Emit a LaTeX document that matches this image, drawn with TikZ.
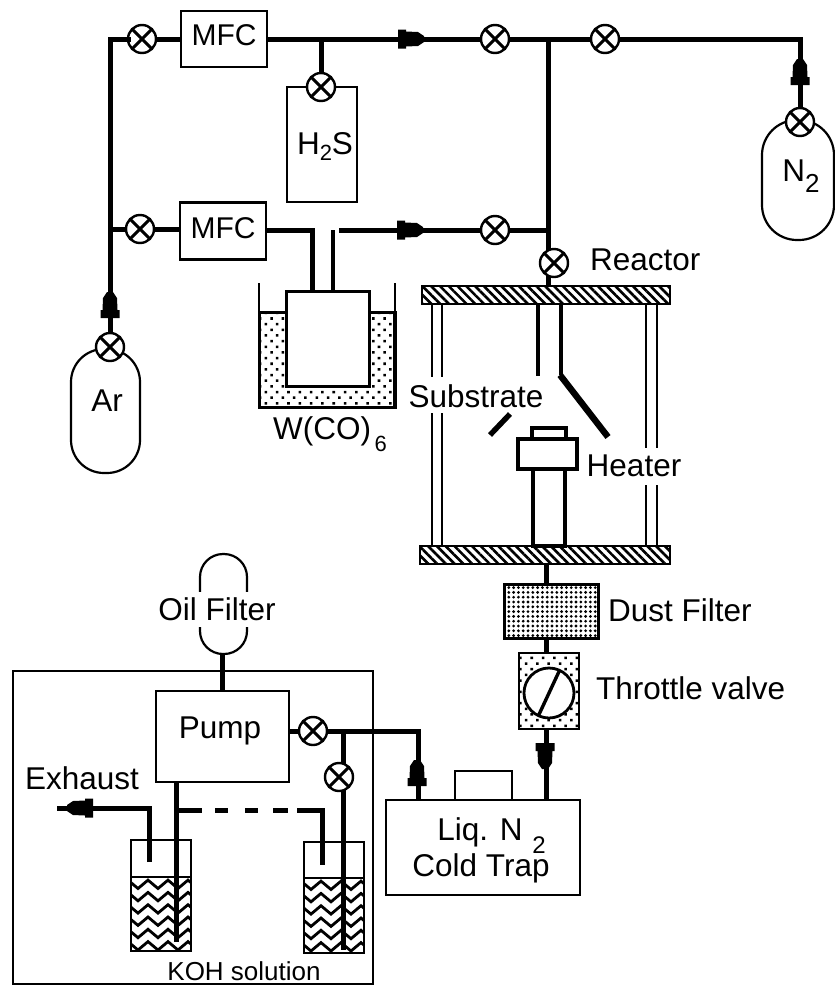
\documentclass[tikz,border=0pt]{standalone}
\usepackage{fontspec}
\setmainfont{Liberation Sans}
\usetikzlibrary{patterns.meta,decorations.pathmorphing}

\newcommand{\subtxt}[3]{\raisebox{#1}{\fontsize{#2}{#2}\selectfont #3}}

\tikzset{
  box/.style={draw,line width=2.2pt,inner sep=0pt,outer sep=0pt},
  heavybox/.style={box,line width=3.8pt},
  capsule/.style={box,fill=white},
  valve/.style={circle,draw,fill=white,line width=2.4pt,inner sep=0pt,outer sep=0pt,minimum size=28pt,
    path picture={\draw[line width=3pt] (path picture bounding box.north west) -- (path picture bounding box.south east)
      (path picture bounding box.north east) -- (path picture bounding box.south west);}},
  pipe/.style={line width=5pt},
  wall/.style={line width=2.8pt},
  tube/.style={line width=4.4pt},
  lbl/.style={inner sep=0pt,font=\fontsize{31.5}{35}\selectfont},
  hatched/.style={pattern={Lines[angle=-45,distance=6.2pt,line width=2.6pt]}},
  sparsedots/.style={pattern={Dots[angle=45,distance=8pt,radius=1.8pt]}},
  densedots/.style={pattern={Dots[angle=0,distance=4.8pt,radius=1.55pt]}},
  wave/.style={line width=2.8pt,decorate,decoration={zigzag,segment length=20pt,amplitude=4.2pt}},
  checkvalve/.pic={
    \fill (-13,-9.5) -- (-5,-9.5) -- (-5,-7.5) -- (7,-7) -- (13,-3) -- (13,3) -- (7,7) -- (-5,7.5) -- (-5,9.5) -- (-13,9.5) -- cycle;
  }
}

\begin{document}
\begin{tikzpicture}[x=1pt,y=-1pt]
  \useasboundingbox (0,0) rectangle (835,986);

  % gas cylinders and flow controllers
  \node[capsule,minimum width=69pt,minimum height=124pt,rounded corners=33pt] (arBottle) at (105.5,411) {};
  \node[lbl] (arLbl) at (107,401) {Ar};
  \node[capsule,minimum width=72pt,minimum height=120pt,rounded corners=35pt] (nBottle) at (798,180) {};
  \node[lbl] (nLbl) at (801,176) {N\subtxt{-11pt}{26}{2}};
  \node[box,minimum width=70pt,minimum height=115pt] (hsBox) at (322,144.5) {};
  \node[lbl] (hsLbl) at (325,146) {H\subtxt{-6pt}{22}{2}S};
  \node[box,minimum width=86pt,minimum height=56pt] (mfcA) at (224,39) {};
  \node[lbl,font=\fontsize{30}{34}\selectfont] (mfcAlbl) at (224,35) {MFC};
  \node[box,minimum width=86pt,minimum height=57pt] (mfcB) at (223,231) {};
  \node[lbl,font=\fontsize{30}{34}\selectfont] (mfcBlbl) at (223,228) {MFC};

  % tee points of the gas lines
  \coordinate (arCorner) at (110,39);
  \coordinate (arTee) at (110,229);
  \coordinate (hsTee) at (321,39);
  \coordinate (mainTop) at (548,39);
  \coordinate (mainMid) at (548,230);
  \coordinate (nCorner) at (800,39);
  \coordinate (bubInA) at (312,230);
  \coordinate (bubInB) at (312,291);
  \coordinate (bubOutA) at (333,230);
  \coordinate (bubOutB) at (333,291);
  \coordinate (reacA) at (548,250);
  \coordinate (reacB) at (548,276);
  \coordinate (reacC) at (548,287);
  \coordinate (bubOutC) at (339,230);

  % valves
  \node[valve] (vArTop) at (142,39) {};
  \node[valve] (vArMid) at (140,229) {};
  \node[valve] (vAr) at (110,347) {};
  \node[valve] (vHs) at (321,87) {};
  \node[valve] (vTopA) at (495,39) {};
  \node[valve] (vTopB) at (605,39) {};
  \node[valve] (vN) at (800,122) {};
  \node[valve] (vMid) at (495,230) {};
  \node[valve] (vReac) at (554,263) {};
  \node[lbl,anchor=west] (reacLbl) at (590,260) {Reactor};

  % gas lines
  \draw[pipe] (arCorner) -- (vAr);
  \draw[pipe,line cap=rect] (arCorner) -- (vArTop);
  \draw[pipe] (vArTop) -- (mfcA);
  \draw[pipe] (arTee) -- (vArMid);
  \draw[pipe] (vArMid) -- (mfcB.west |- vArMid);
  \draw[pipe] (mfcA) -- (vTopA);
  \draw[pipe] (hsTee) -- (vHs);
  \draw[pipe] (vTopA) -- (vTopB);
  \draw[pipe] (vTopB) -- (nCorner) -- (vN);
  \draw[pipe] (mainTop) -- (reacA);
  \draw[pipe] (reacB) -- (reacC);
  \draw[pipe] (mfcB.east |- bubInA) -- (bubInA) -- (bubInB);
  \draw[tube] (bubOutA) -- (bubOutB);
  \draw[pipe] (bubOutC) -- (vMid);
  \draw[pipe] (vMid) -- (mainMid);

  % bubbler in its bath
  \draw[box,line width=3pt,sparsedots] (259,312) -- (286,312) -- (286,386) -- (367,386) -- (367,312) -- (395,312) -- (395,407) -- (259,407) -- cycle;
  \draw[wall] (259,283) -- (259,312);
  \draw[wall] (395,283) -- (395,312);
  \draw[line width=4pt] (395,312) -- (395,407);
  \node[box,line width=3pt,fill=white,minimum width=83pt,minimum height=95pt] (bubbler) at (327.5,338.5) {};
  \node[lbl] (wLbl) at (330,434) {W(CO)\subtxt{-12pt}{22}{\,6}};

  % reactor
  \node[box,line width=2.8pt,hatched,minimum width=248pt,minimum height=18pt] (topPlate) at (546,295) {};
  \node[box,line width=2.8pt,hatched,minimum width=250pt,minimum height=18pt] (botPlate) at (545,555) {};
  \draw[wall] (432,304) -- (432,377) (442,304) -- (442,377);
  \draw[wall] (432,413) -- (432,546) (442,413) -- (442,546);
  \draw[wall] (646,304) -- (646,448) (657,304) -- (657,448);
  \draw[wall] (646,485) -- (646,546) (657,485) -- (657,546);
  \draw[tube] (538,304) -- (538,376);
  \draw[tube] (561,304) -- (561,375);
  \draw[line width=6.4pt] (560,375) -- (608,437);
  \draw[line width=5.4pt] (510,414) -- (490,435);
  \node[heavybox,minimum width=34pt,minimum height=12pt] (holderTop) at (549,434) {};
  \node[heavybox,fill=white,minimum width=59pt,minimum height=30pt] (holder) at (547.5,454) {};
  \node[heavybox,minimum width=32pt,minimum height=77pt] (holderPost) at (549,507.5) {};
  \node[lbl] (subLbl) at (476,396) {Substrate};
  \node[lbl] (heatLbl) at (634,466) {Heater};

  % filter, throttle and trap
  \coordinate (exitLine) at (546,600);
  \node[box,line width=3pt,densedots,minimum width=94pt,minimum height=54pt] (dust) at (551,611) {};
  \node[lbl,anchor=west] (dustLbl) at (608,610) {Dust Filter};
  \node[box,line width=2.8pt,sparsedots,minimum width=60pt,minimum height=76pt] (throttle) at (549,691) {};
  \node[circle,draw,fill=white,line width=2.8pt,minimum size=50pt,inner sep=0pt,outer sep=0pt] (throttleDisc) at (549,693) {};
  \draw[line width=3.4pt] (throttleDisc.65) -- (throttleDisc.245);
  \node[lbl,anchor=west] (throttleLbl) at (596,688) {Throttle valve};
  \node[box,minimum width=194pt,minimum height=95pt] (trap) at (483,847.5) {};
  \node[lbl] (trapLblA) at (480,832) {Liq. N};
  \node[lbl] (trapLblB) at (481,868) {Cold Trap};
  \node[lbl,font=\fontsize{24}{24}\selectfont] (trapSub) at (539,845) {2};
  \node[box,minimum width=57pt,minimum height=29pt] (trapNeck) at (483.5,785.5) {};
  \draw[pipe] (botPlate.south -| exitLine) -- (dust.north -| exitLine);
  \draw[pipe] (dust.south -| exitLine) -- (throttle.north -| exitLine);
  \draw[pipe] (throttle.south -| exitLine) -- (trap.north -| exitLine);

  % pump enclosure
  \node[box,minimum width=360pt,minimum height=313pt] (enclosure) at (193,827.5) {};
  \node[box,minimum width=133pt,minimum height=91pt] (pump) at (222.5,736.5) {};
  \node[lbl] (pumpLbl) at (220,731) {Pump};
  \node[capsule,minimum width=47pt,minimum height=100pt,rounded corners=23pt] (oil) at (223.5,604) {};
  \node[lbl,fill=white,minimum height=35pt] (oilLbl) at (217,609) {Oil Filter};
  \coordinate (oilLine) at (222,660);
  \draw[pipe] (oil.south -| oilLine) -- (pump.north -| oilLine);
  \node[lbl] (exhaustLbl) at (82,778) {Exhaust};
  \node[lbl,font=\fontsize{26}{26}\selectfont] (kohLbl) at (244,971) {KOH solution};

  % KOH bottles
  \foreach \bx/\by in {131/877,304/878} {
    \begin{scope}
      \clip (\bx,\by) rectangle (\bx+60,\by+75);
      \foreach \k in {1,...,6}
        \draw[wave] (\bx-8,\by+12.3*\k-5) -- (\bx+70,\by+12.3*\k-5);
    \end{scope}
    \draw[box] (\bx,\by) -- (\bx+60,\by);
  }
  \node[box,minimum width=60pt,minimum height=111pt] (bottleL) at (161,895.5) {};
  \node[box,minimum width=60pt,minimum height=111pt] (bottleR) at (334,897.5) {};

  % exhaust lines
  \coordinate (pumpDrop) at (176,782);
  \coordinate (pumpEnd) at (176,942);
  \coordinate (dashTee) at (176,810);
  \coordinate (dashEnd) at (322,810);
  \coordinate (dipR) at (322,865);
  \coordinate (exhIn) at (149,862);
  \coordinate (exhCorner) at (149,808);
  \coordinate (exhOut) at (57,808);
  \draw[pipe] (pumpDrop) -- (pumpEnd);
  \draw[pipe,dash pattern=on 26pt off 13pt on 13pt off 17pt on 13pt off 15pt on 15pt off 9pt on 120pt off 0pt] (dashTee) -- (dashEnd) -- (dipR);
  \draw[pipe] (exhIn) -- (exhCorner) -- (exhOut);

  % pump outlet
  \node[valve] (vPump) at (313,731) {};
  \coordinate (bypassTee) at (343,733);
  \coordinate (bypassEnd) at (343,950);
  \coordinate (trapCorner) at (418,733);
  \draw[pipe] (pump.east |- vPump) -- (vPump);
  \draw[pipe] (vPump) -- (vPump -| trapCorner) -- (trap.north -| trapCorner);
  \draw[pipe] (bypassTee) -- (bypassEnd);
  \node[valve] (vBypass) at (339,777) {};

  % check valves
  \pic at (411,39) {checkvalve};
  \pic at (410,230) {checkvalve};
  \pic[rotate=90] at (110,305) {checkvalve};
  \pic[rotate=90] at (800,72) {checkvalve};
  \pic[rotate=-90] at (545,756) {checkvalve};
  \pic[rotate=90] at (417,773) {checkvalve};
  \pic[rotate=180] at (80,808) {checkvalve};
\end{tikzpicture}
\end{document}
